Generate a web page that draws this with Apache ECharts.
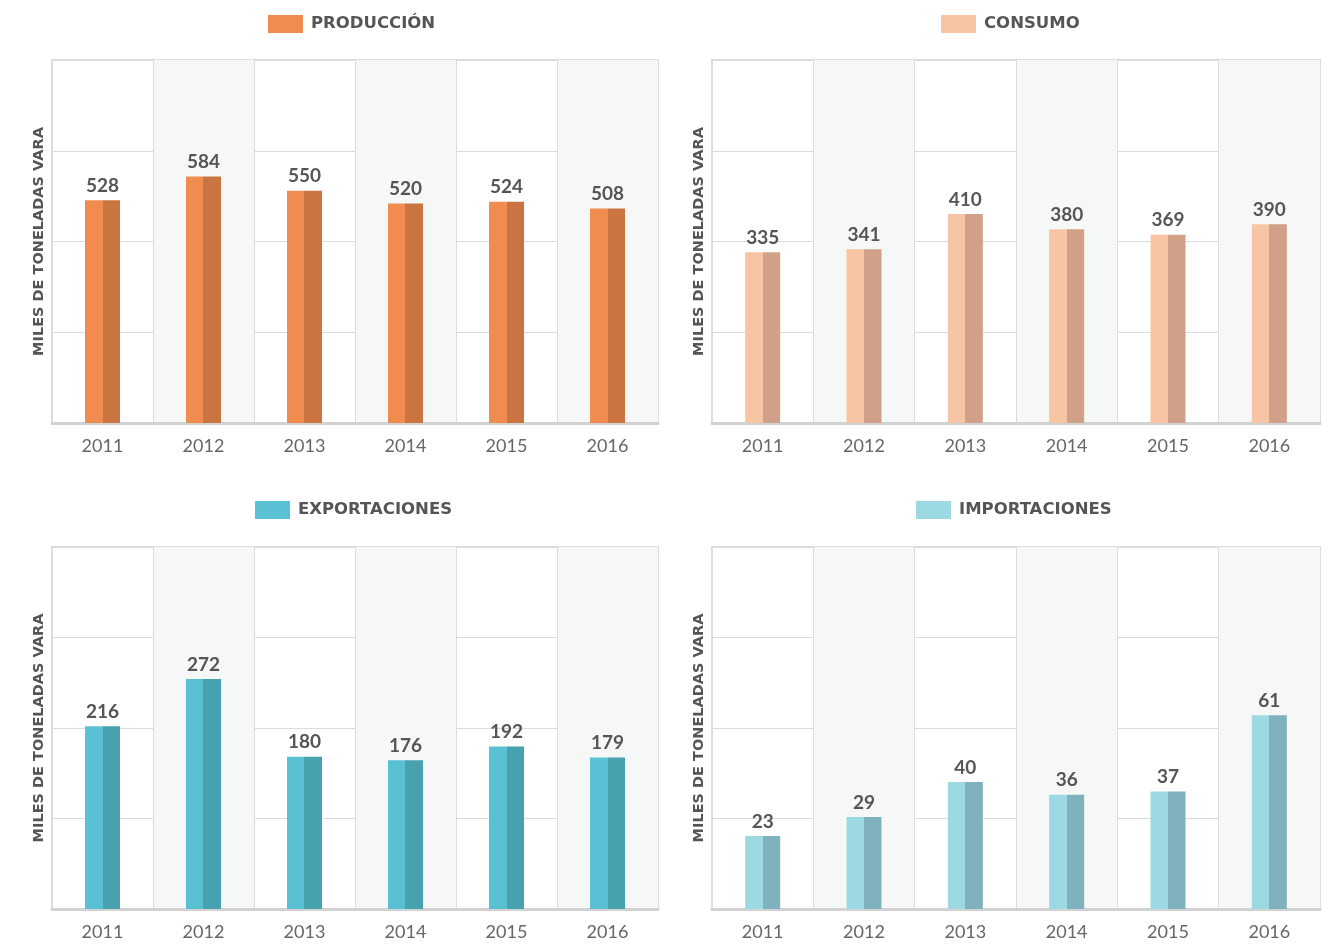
<!DOCTYPE html>
<html>
<head>
<meta charset="utf-8">
<script src="https://cdn.jsdelivr.net/npm/echarts@6/dist/echarts.min.js"></script>
<style>
html,body{margin:0;padding:0;background:#fff;}
#chart{width:1336px;height:944px;}
</style>
</head>
<body>
<div id="chart"></div>
<script>
const years = ['2011', '2012', '2013', '2014', '2015', '2016'];
const produccion = [528, 584, 550, 520, 524, 508];
const consumo = [335, 341, 410, 380, 369, 390];
const exportaciones = [216, 272, 180, 176, 192, 179];
const importaciones = [23, 29, 40, 36, 37, 61];
const panelTitles = ['PRODUCCIÓN', 'CONSUMO', 'EXPORTACIONES', 'IMPORTACIONES'];
const axisName = 'MILES DE TONELADAS VARA';

const seriesData = [produccion, consumo, exportaciones, importaciones];
const lightColors = ['#F18C51', '#F7C4A4', '#5AC1D4', '#9DD9E3'];
const darkColors = ['#C97441', '#D0A088', '#48A1AE', '#80B2BD'];
const axisMax = [860, 712, 428, 114];
const grids = [
  {left: 52, top: 60, width: 606, height: 363},
  {left: 712, top: 60, width: 608, height: 363},
  {left: 52, top: 547, width: 606, height: 362},
  {left: 712, top: 547, width: 608, height: 362}
];
const titlePos = [[268, 15], [941, 15], [255, 501], [916, 501]];
const FONT = 'Lato, "Open Sans", sans-serif';
const WIDEFONT = '"DejaVu Sans", "Open Sans", sans-serif';

const option = {
  animation: false,
  backgroundColor: '#ffffff',
  title: panelTitles.map((t, i) => ({
    text: '{box|}{t|' + t + '}',
    left: titlePos[i][0],
    top: titlePos[i][1],
    padding: 0,
    textStyle: {
      rich: {
        box: {width: 35, height: 18, backgroundColor: lightColors[i]},
        t: {fontFamily: WIDEFONT, fontWeight: 'bold', fontSize: 16.5, color: '#555555', padding: [0, 0, 0, 8]}
      }
    }
  })),
  grid: grids.map(g => Object.assign({show: true, borderColor: '#dcdcdc', borderWidth: 2, backgroundColor: 'transparent'}, g)),
  xAxis: grids.map((g, i) => ({
    type: 'category',
    gridIndex: i,
    data: years,
    axisLine: {show: true, lineStyle: {color: '#d2d2d2', width: 3}},
    axisTick: {show: false},
    axisLabel: {color: '#666666', fontFamily: FONT, fontSize: 18, margin: 14},
    splitLine: {show: true, interval: 0, lineStyle: {color: '#dcdcdc', width: 1}},
    splitArea: {show: true, interval: 0, areaStyle: {color: ['rgba(255,255,255,0)', '#f6f7f7']}}
  })),
  yAxis: grids.map((g, i) => ({
    type: 'value',
    gridIndex: i,
    min: 0,
    max: axisMax[i],
    interval: axisMax[i] / 4,
    axisLine: {show: false},
    axisTick: {show: false},
    axisLabel: {show: false},
    splitLine: {show: true, lineStyle: {color: '#dcdcdc', width: 1}},
    name: axisName,
    nameLocation: 'middle',
    nameRotate: 90,
    nameGap: 5,
    nameTextStyle: {color: '#555555', fontFamily: WIDEFONT, fontWeight: 'bold', fontSize: 14.5}
  })),
  series: seriesData.map((d, i) => ({
    type: 'bar',
    xAxisIndex: i,
    yAxisIndex: i,
    data: d,
    barWidth: 35,
    itemStyle: {
      color: {
        type: 'linear', x: 0, y: 0, x2: 1, y2: 0,
        colorStops: [
          {offset: 0, color: lightColors[i]},
          {offset: 0.5, color: lightColors[i]},
          {offset: 0.5, color: darkColors[i]},
          {offset: 1, color: darkColors[i]}
        ]
      }
    },
    label: {
      show: true,
      position: 'top',
      distance: 5,
      color: '#555555',
      fontFamily: FONT,
      fontWeight: 'bold',
      fontSize: 19
    }
  }))
};

const chart = echarts.init(document.getElementById('chart'), null, {renderer: 'canvas'});
chart.setOption(option);
</script>
</body>
</html>
